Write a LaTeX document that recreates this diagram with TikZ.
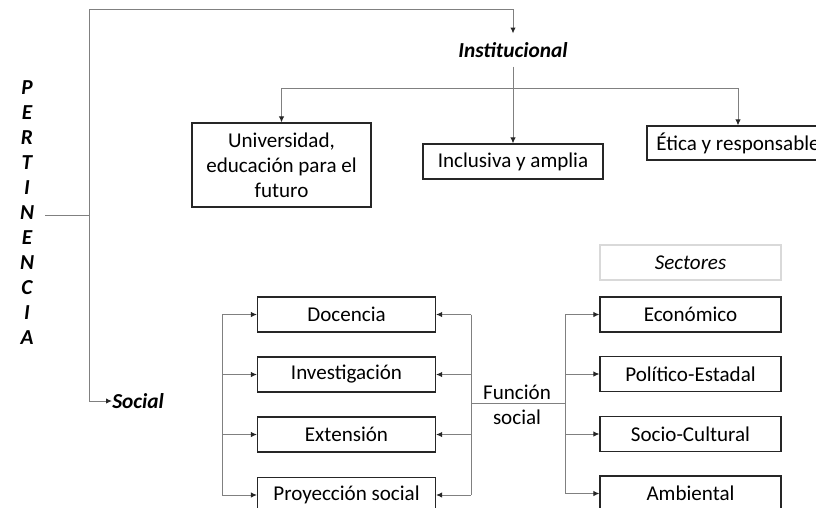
\documentclass[tikz,border=0pt]{standalone}
\usepackage{fontspec}
\setmainfont{Carlito}
\usetikzlibrary{arrows.meta}
\tikzset{
  box/.style={draw=black!85, line width=0.8pt, minimum width=180*0.75pt, minimum height=35*0.75pt, inner sep=0pt, font=\fontsize{15.8}{18.75}\selectfont, align=center},
  conn/.style={draw=black!50, line width=0.75pt},
  arr/.style={conn, -{Latex[length=4.5pt,width=4pt,color=black!85]}},
  lbl/.style={font=\fontsize{16}{18.75}\selectfont\bfseries\itshape, inner sep=0pt},
}
\begin{document}
\begin{tikzpicture}[x=0.75pt,y=-0.75pt]
\useasboundingbox (0,0) rectangle (816,507);
% PERTINENCIA
\node[lbl, align=center] (pert) at (27,213)
  {P\\E\\R\\T\\I\\N\\E\\N\\C\\I\\A};
\coordinate (j) at (89,215);
\coordinate (top) at (89,9);
\node[lbl, inner ysep=6.5pt] (inst) at (513,50) {Institucional};
\node[lbl, anchor=west] (soc) at (112,401) {Social};
% top boxes
\node[box, minimum width=179*0.75pt, minimum height=84*0.75pt] (uni) at (281.5,165) {Universidad,\\educación para el\\futuro};
\node[box] (inc) at (513,161.5) {Inclusiva y amplia};
\node[box, minimum width=182*0.75pt, minimum height=34*0.75pt] (eti) at (738,143) {Ética y responsable};
\coordinate (b) at (513,88);
% connectors top
\draw[conn] (j) ++(-44,0) -- (j);
\draw[conn] (soc.west -| j) -- (top);
\draw[arr] (top) -| (inst.north);
\draw[arr] (j |- soc.west) -- (soc.west);
\draw[arr] (inst.south) -- (inc.north);
\draw[arr] (b) -| (uni.north);
\draw[arr] (b) -| (eti.north);
% left boxes
\node[box, minimum width=178*0.75pt] (doc) at (346.5,314.5) {Docencia};
\node[box, minimum width=178*0.75pt] (inv) at (346.5,374.5) {Investigación};
\node[box, minimum width=178*0.75pt] (ext) at (346.5,434.5) {Extensión};
\node[box, minimum width=178*0.75pt] (pro) at (346.5,495) {Proyección social};
% right boxes
\node[box, minimum width=181*0.75pt, draw=black!15, font=\fontsize{15.8}{18.75}\selectfont\itshape] (sec) at (690.5,262.5) {Sectores};
\node[box, minimum width=181*0.75pt] (eco) at (690.5,314.5) {Económico};
\node[box, minimum width=181*0.75pt] (pol) at (690.5,374) {Político-Estadal};
\node[box, minimum width=181*0.75pt] (soccul) at (690.5,434) {Socio-Cultural};
\node[box, minimum width=181*0.75pt] (amb) at (690.5,493.5) {Ambiental};
% funcion social
\node[font=\fontsize{15.8}{18.75}\selectfont, align=center, inner sep=0pt] (fun) at (517,404.5) {Función\\social};
\coordinate (fl) at (471,403);
\coordinate (fr) at (565,403);
\coordinate (lb) at (222,403);
\draw[conn] (fl) -- (fr);
\draw[conn] (fl |- doc.east) -- (fl |- pro.east);
\foreach \n in {doc,inv,ext,pro} \draw[arr] (fl |- \n.east) -- (\n.east);
\draw[conn] (fr |- eco.west) -- (fr |- amb.west);
\foreach \n in {eco,pol,soccul,amb} \draw[arr] (fr |- \n.west) -- (\n.west);
\draw[conn] (lb |- doc.west) -- (lb |- pro.west);
\foreach \n in {doc,inv,ext,pro} \draw[arr] (lb |- \n.west) -- (\n.west);
\end{tikzpicture}
\end{document}
